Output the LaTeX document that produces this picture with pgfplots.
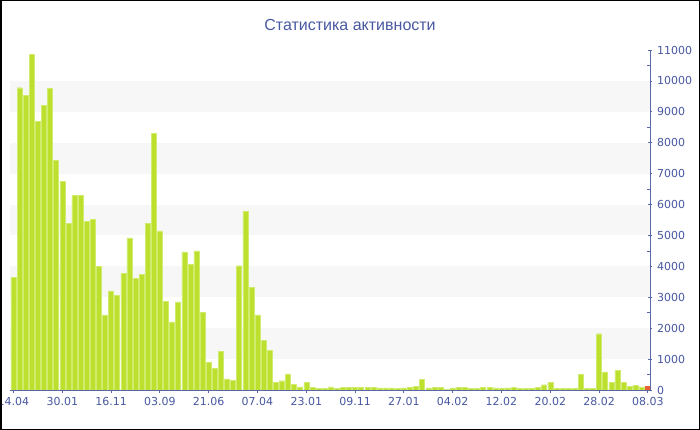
\documentclass[border=0pt]{standalone}
\usepackage{pgfplots}
\usepackage{pgfplotstable}
\pgfplotsset{compat=1.18}
\usepackage{fontspec}
\setmainfont{DejaVu Sans}
\newfontfamily\titlefont{Liberation Sans}
\definecolor{txt}{RGB}{72,88,162}
\definecolor{axl}{RGB}{88,104,168}
\definecolor{barg}{RGB}{189,224,46}
\definecolor{bare}{RGB}{208,236,110}
\definecolor{barr}{RGB}{232,96,52}
\definecolor{band}{RGB}{247,247,247}

\pgfplotstableread{
x y
0 3650
1 9780
2 9530
3 10850
4 8700
5 9210
6 9760
7 7440
8 6760
9 5390
10 6300
11 6300
12 5450
13 5520
14 4010
15 2430
16 3210
17 3060
18 3780
19 4920
20 3620
21 3740
22 5390
23 8300
24 5150
25 2860
26 2200
27 2850
28 4470
29 4070
30 4500
31 2520
32 900
33 690
34 1250
35 360
36 320
37 4020
38 5780
39 3310
40 2430
41 1610
42 1280
43 250
44 300
45 520
46 180
47 100
48 250
49 75
50 55
51 55
52 100
53 55
54 75
55 85
56 85
57 75
58 95
59 85
60 65
61 65
62 65
63 55
64 65
65 75
66 110
67 335
68 65
69 75
70 75
71 30
72 65
73 85
74 75
75 45
76 55
77 85
78 75
79 65
80 55
81 65
82 95
83 45
84 55
85 45
86 75
87 170
88 250
89 45
90 45
91 45
92 55
93 500
94 55
95 55
96 1820
97 590
98 250
99 625
100 240
101 120
102 140
103 100
}\greentable

\begin{document}
\begin{tikzpicture}
\useasboundingbox (0,0) rectangle (700bp,430bp);
\clip (0,0) rectangle (700bp,430bp);
\fill[white] (0,0) rectangle (700bp,430bp);
\begin{axis}[
  at={(10bp,40bp)}, anchor=south west,
  scale only axis, width=640bp, height=340bp,
  xmin=-0.57, xmax=104.35, ymin=0, ymax=11000,
  enlargelimits=false,
  ybar,
  axis x line*=bottom, axis y line*=right,
  axis line style={axl, line width=0.8bp},
  tick style={axl, line width=0.8bp},
  tick align=outside,
  major tick length=3.5bp,
  minor tick length=3bp,
  major y tick style={xshift=-1.75bp},
  minor y tick style={xshift=-3bp},
  xtick={0,8,...,104},
  xticklabels={14.04,30.01,16.11,03.09,21.06,07.04,23.01,09.11,27.01,04.02,12.02,20.02,28.02,08.03},
  ytick={0,1000,...,11000},
  minor ytick={500,1500,...,10500},
  scaled y ticks=false,
  yticklabel style={/pgf/number format/.cd, 1000 sep={}, fixed, assume math mode=true},
  tick label style={font=\fontsize{11bp}{13bp}\selectfont, text=txt},
]
\fill[band] (axis cs:-0.57,1000) rectangle (axis cs:104.35,2000);
\fill[band] (axis cs:-0.57,3000) rectangle (axis cs:104.35,4000);
\fill[band] (axis cs:-0.57,5000) rectangle (axis cs:104.35,6000);
\fill[band] (axis cs:-0.57,7000) rectangle (axis cs:104.35,8000);
\fill[band] (axis cs:-0.57,9000) rectangle (axis cs:104.35,10000);
\addplot[bar width=5bp, bar shift=0pt, fill=barg, draw=bare, line width=0.4bp] table[x=x,y=y] {\greentable};
\addplot[bar width=5bp, bar shift=0pt, fill=barr, draw=barr, line width=0.4bp] coordinates {(104,110)};
\end{axis}
\node[font=\titlefont\fontsize{16bp}{18bp}\selectfont, text=txt] at (350bp,405bp) {Статистика активности};
\draw[black, line width=1.5bp] (0.75bp,0.75bp) rectangle (699.25bp,429.25bp);
\end{tikzpicture}
\end{document}
